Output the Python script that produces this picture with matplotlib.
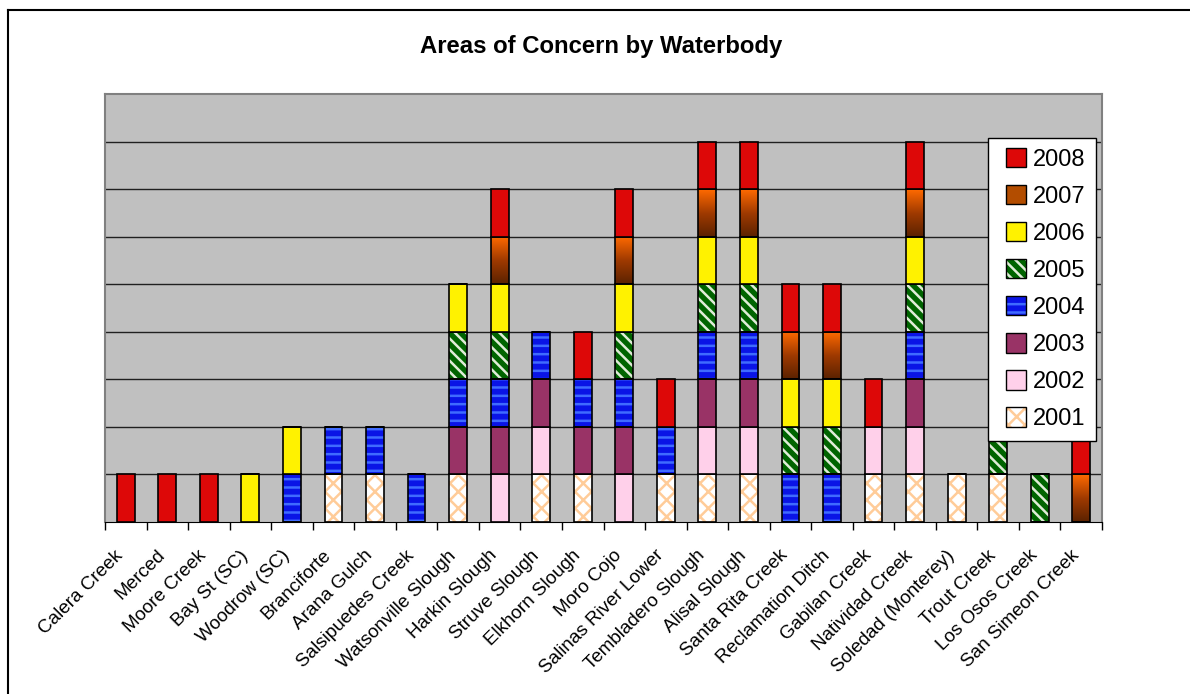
import numpy as np
import matplotlib
matplotlib.use("Agg")
import matplotlib.pyplot as plt
from matplotlib.patches import Rectangle
from matplotlib.lines import Line2D
from matplotlib.colors import LinearSegmentedColormap
from matplotlib.legend_handler import HandlerBase
from matplotlib.transforms import ScaledTranslation

plt.rcParams['font.family'] = ['Liberation Sans', 'DejaVu Sans']
plt.rcParams['hatch.linewidth'] = 1.8

waterbodies = ["Calera Creek", "Merced", "Moore Creek", "Bay St (SC)", "Woodrow (SC)",
               "Branciforte", "Arana Gulch", "Salsipuedes Creek", "Watsonville Slough",
               "Harkin Slough", "Struve Slough", "Elkhorn Slough", "Moro Cojo",
               "Salinas River Lower", "Tembladero Slough", "Alisal Slough",
               "Santa Rita Creek", "Reclamation Ditch", "Gabilan Creek",
               "Natividad Creek", "Soledad (Monterey)", "Trout Creek",
               "Los Osos Creek", "San Simeon Creek"]

years = ["2001", "2002", "2003", "2004", "2005", "2006", "2007", "2008"]

y2001 = [0,0,0,0,0,1,1,0,1,0,1,1,0,1,1,1,0,0,1,1,1,1,0,0]
y2002 = [0,0,0,0,0,0,0,0,0,1,1,0,1,0,1,1,0,0,1,1,0,0,0,0]
y2003 = [0,0,0,0,0,0,0,0,1,1,1,1,1,0,1,1,0,0,0,1,0,0,0,0]
y2004 = [0,0,0,0,1,1,1,1,1,1,1,1,1,1,1,1,1,1,0,1,0,0,0,0]
y2005 = [0,0,0,0,0,0,0,0,1,1,0,0,1,0,1,1,1,1,0,1,0,1,1,0]
y2006 = [0,0,0,1,1,0,0,0,1,1,0,0,1,0,1,1,1,1,0,1,0,0,0,0]
y2007 = [0,0,0,0,0,0,0,0,0,1,0,0,1,0,1,1,1,1,0,1,0,0,0,1]
y2008 = [1,1,1,0,0,0,0,0,0,1,0,1,1,1,1,1,1,1,1,1,0,0,0,1]
series = [y2001, y2002, y2003, y2004, y2005, y2006, y2007, y2008]

# face, hatch colour, hatch pattern
styles = {
    "2001": ("#FFFFFF", "#FFCC99", "xx"),
    "2002": ("#FFD0EA", None, None),
    "2003": ("#993366", None, None),
    "2004": ("#0A14E6", "#3F6BFF", "--"),
    "2005": ("#006400", "#E0ECD8", "\\\\\\"),
    "2006": ("#FFF200", None, None),
    "2007": ("#B34D00", None, None),
    "2008": ("#DD0808", None, None),
}
grad = LinearSegmentedColormap.from_list("g2007", ["#5C2200", "#A03A00", "#FF6A00"])

fig = plt.figure(figsize=(11.9, 6.94), dpi=100)
ax = fig.add_axes([105/1190, 1 - 522/694, (1102 - 105)/1190, (522 - 94)/694])
ax.set_facecolor("#C0C0C0")
ax.set_axisbelow(True)

x = np.arange(len(waterbodies))
w = 0.43
bottom = np.zeros(len(waterbodies))
for yr, vals in zip(years, series):
    vals = np.array(vals, dtype=float)
    face, hcol, hatch = styles[yr]
    if yr == "2007":
        for xi, b, v in zip(x, bottom, vals):
            if v > 0:
                ax.imshow(np.linspace(0, 1, 60).reshape(-1, 1), cmap=grad, origin="lower",
                          extent=(xi - w/2, xi + w/2, b, b + v), aspect="auto", zorder=2)
        ax.bar(x, vals, w, bottom=bottom, facecolor="none", edgecolor="black", lw=1.2, zorder=3)
    else:
        if hatch:
            ax.bar(x, vals, w, bottom=bottom, facecolor=face, edgecolor=hcol,
                   hatch=hatch, lw=0, zorder=2)
            ax.bar(x, vals, w, bottom=bottom, facecolor="none", edgecolor="black", lw=1.2, zorder=3)
        else:
            ax.bar(x, vals, w, bottom=bottom, facecolor=face, edgecolor="black", lw=1.2, zorder=3)
    bottom += vals

ax.set_xlim(-0.5, len(waterbodies) - 0.5)
ax.set_ylim(0, 9)
ax.set_yticks(range(1, 9))
ax.yaxis.grid(True, color="#202020", lw=1)
ax.tick_params(axis="y", length=0, labelleft=False)

ax.set_xticks(x)
ax.set_xticklabels(waterbodies, rotation=45, ha="right", rotation_mode="anchor", fontsize=13.6)
ax.tick_params(axis="x", which="major", length=0, pad=18)
ax.set_xticks(np.arange(-0.5, len(waterbodies)), minor=True)
ax.tick_params(axis="x", which="minor", length=6, width=1, color="black", direction="out")
shift = ScaledTranslation(-11/100, 0, fig.dpi_scale_trans)
for lab in ax.get_xticklabels():
    lab.set_transform(lab.get_transform() + shift)

for s in ["left", "top", "right"]:
    ax.spines[s].set_color("#808080")
    ax.spines[s].set_linewidth(1.5)
ax.spines["bottom"].set_color("black")

fig.text(601/1190, 1 - 46/694, "Areas of Concern by Waterbody", ha="center", va="center",
         fontsize=17.2, fontweight="bold")

# outer chart border
fig.add_artist(Line2D([8/1190, 8/1190], [0, 1 - 10/694], transform=fig.transFigure, color="black", lw=1.5))
fig.add_artist(Line2D([8/1190, 1], [1 - 10/694, 1 - 10/694], transform=fig.transFigure, color="black", lw=1.5))


class SquareHandler(HandlerBase):
    # small square key pushed to the right edge of the handle box
    def create_artists(self, legend, orig_handle, xdescent, ydescent, width, height, fontsize, trans):
        s = 14
        x0 = -xdescent + width - s
        y0 = -ydescent + (height - s) / 2
        face, hcol, hatch = orig_handle
        arts = []
        if hatch:
            arts.append(Rectangle((x0, y0), s, s, facecolor=face, edgecolor=hcol, hatch=hatch,
                                  lw=0, transform=trans))
            arts.append(Rectangle((x0, y0), s, s, facecolor="none", edgecolor="black", lw=1,
                                  transform=trans))
        else:
            arts.append(Rectangle((x0, y0), s, s, facecolor=face, edgecolor="black", lw=1,
                                  transform=trans))
        return arts


handles = [styles[yr] for yr in years[::-1]]
leg = ax.legend(handles=handles, labels=years[::-1], handler_map={tuple: SquareHandler()},
                loc="upper left", bbox_to_anchor=(988/1190, 1 - 138/694),
                bbox_transform=fig.transFigure, fontsize=17, frameon=True, fancybox=False,
                borderaxespad=0, handlelength=1.15, handleheight=0.6, handletextpad=0.3,
                labelspacing=0.64, borderpad=0.45, framealpha=1)
leg.get_frame().set_edgecolor("black")
leg.get_frame().set_linewidth(1)
leg.set_zorder(10)

fig.savefig("out.png", dpi=100)
